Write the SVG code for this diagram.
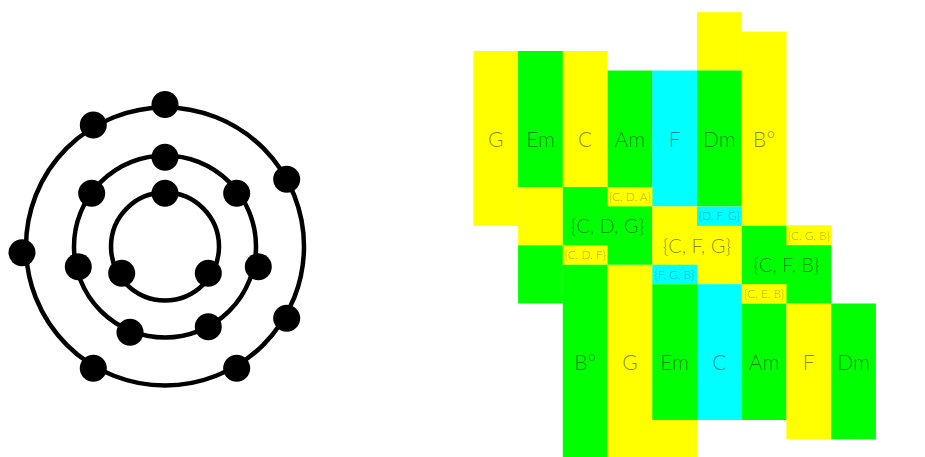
<svg xmlns="http://www.w3.org/2000/svg" width="925" height="457" viewBox="0 0 925 457">
<style>
.ring{fill:none;stroke:#000;stroke-width:4.5}
.dot{fill:#000}
.y{fill:#ffff00}
.g{fill:#00ff00}
.c{fill:#00ffff}
text{font-family:Lato,"Open Sans","DejaVu Sans",sans-serif;font-weight:300;text-anchor:middle;fill:#000}
.big{font-size:21px;fill-opacity:0.48}
.mid{font-size:20px;fill-opacity:0.48}
.sm{font-size:11.8px;fill-opacity:0.38}
</style>
<rect width="925" height="457" fill="#fff"/>
<g id="rings">
<circle class="ring" cx="165" cy="246.5" r="139"/>
<circle class="ring" cx="165" cy="246.5" r="91"/>
<circle class="ring" cx="165" cy="246.5" r="54"/>
</g>
<g id="outer-dots">
<circle class="dot" cx="165" cy="104.5" r="13.5"/>
<circle class="dot" cx="93.3" cy="125" r="13.5"/>
<circle class="dot" cx="286.7" cy="179.3" r="13.5"/>
<circle class="dot" cx="22" cy="252.7" r="13.5"/>
<circle class="dot" cx="286.7" cy="318.3" r="13.5"/>
<circle class="dot" cx="93.3" cy="368.3" r="13.5"/>
<circle class="dot" cx="236.7" cy="368.3" r="13.5"/>
</g>
<g id="middle-dots">
<circle class="dot" cx="165" cy="157.3" r="13.5"/>
<circle class="dot" cx="91.7" cy="193.3" r="13.5"/>
<circle class="dot" cx="236.7" cy="193.3" r="13.5"/>
<circle class="dot" cx="78.3" cy="266.7" r="13.5"/>
<circle class="dot" cx="258.3" cy="266.7" r="13.5"/>
<circle class="dot" cx="130" cy="332.3" r="13.5"/>
<circle class="dot" cx="208.3" cy="326.7" r="13.5"/>
</g>
<g id="inner-dots">
<circle class="dot" cx="165" cy="193.3" r="13.5"/>
<circle class="dot" cx="121.7" cy="273.3" r="13.5"/>
<circle class="dot" cx="208.3" cy="273.3" r="13.5"/>
</g>
<g id="connectors"></g>
<g id="top-G"><rect class="y" x="473.4" y="51" width="44.8" height="174.8"/><rect class="y" x="518.1" y="187" width="44.8" height="58.3"/><text class="big" x="495.8" y="146.7">G</text></g>
<g id="top-Em"><rect class="g" x="518.1" y="51" width="44.8" height="136"/><text class="big" x="540.5" y="146.7">Em</text></g>
<g id="top-C"><rect class="y" x="562.8" y="51" width="44.8" height="136"/><text class="big" x="585.2" y="146.7">C</text></g>
<g id="top-Am"><rect class="g" x="607.6" y="70.5" width="44.8" height="116.5"/><text class="big" x="629.9" y="146.7">Am</text></g>
<g id="top-F"><rect class="c" x="652.3" y="70.5" width="44.8" height="135.9"/><text class="big" x="674.6" y="146.7">F</text></g>
<g id="top-Dm"><rect class="y" x="697" y="12.2" width="44.8" height="58.3"/><rect class="g" x="697" y="70.5" width="44.8" height="135.9"/><text class="big" x="719.4" y="146.7">Dm</text></g>
<g id="top-Bdim"><rect class="y" x="741.7" y="31.6" width="44.8" height="194.2"/><text class="big" x="764.1" y="146.7">B°</text></g>
<g id="bot-Bdim"><rect class="g" x="518.1" y="245.3" width="44.8" height="58.2"/><rect class="g" x="562.8" y="264.7" width="44.8" height="200"/><text class="big" x="585.2" y="370">B°</text></g>
<g id="bot-G"><rect class="y" x="652" y="410" width="45" height="50"/><rect class="y" x="607.6" y="264.7" width="44.8" height="200"/><text class="big" x="629.9" y="370">G</text></g>
<g id="bot-Em"><rect class="g" x="652.3" y="284.1" width="44.8" height="135.9"/><text class="big" x="674.6" y="370">Em</text></g>
<g id="bot-C"><rect class="c" x="697" y="284.1" width="44.8" height="135.9"/><text class="big" x="719.4" y="370">C</text></g>
<g id="bot-Am"><rect class="g" x="741.7" y="303.5" width="44.8" height="116.5"/><text class="big" x="764.1" y="370">Am</text></g>
<g id="bot-F"><rect class="y" x="786.4" y="303.5" width="44.8" height="135.9"/><text class="big" x="808.8" y="370">F</text></g>
<g id="bot-Dm"><rect class="g" x="831.2" y="303.5" width="44.7" height="135.9"/><text class="big" x="853.5" y="370">Dm</text></g>
<g id="CDG"><rect class="g" x="562.8" y="187" width="89.5" height="77.7"/><text class="mid" x="607.6" y="233">{C, D, G}</text>
<rect class="y" x="607.6" y="187" width="44.7" height="19.4"/><text class="sm" x="629.9" y="200.9">{C, D, A}</text>
<rect class="y" x="562.8" y="245.3" width="44.8" height="19.4"/><text class="sm" x="585.2" y="259.2">{C, D, F}</text></g>
<g id="CFG"><rect class="y" x="652.3" y="206.4" width="89.5" height="77.7"/><text class="mid" x="697" y="252.5">{C, F, G}</text>
<rect class="c" x="697" y="206.4" width="44.8" height="19.4"/><text class="sm" x="719.4" y="220.3">{D, F, G}</text>
<rect class="c" x="652.3" y="264.7" width="44.8" height="19.4"/><text class="sm" x="674.6" y="278.6">{F, G, B}</text></g>
<g id="CFB"><rect class="g" x="741.7" y="225.8" width="89.5" height="77.7"/><text class="mid" x="786.4" y="271.9">{C, F, B}</text>
<rect class="y" x="786.4" y="225.8" width="44.8" height="19.4"/><text class="sm" x="808.8" y="239.7">{C, G, B}</text>
<rect class="y" x="741.7" y="284.1" width="44.8" height="19.4"/><text class="sm" x="764.1" y="298">{C, E, B}</text></g>
</svg>
